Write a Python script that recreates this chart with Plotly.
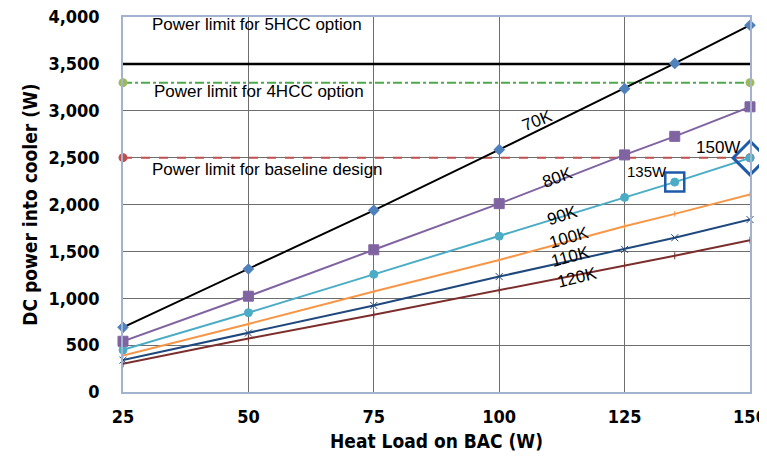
import plotly.graph_objects as go

heat_load = [25, 50, 75, 100, 125, 135, 150]
p70 = [690, 1312, 1938, 2585, 3236, 3505, 3912]
p80 = [541, 1022, 1517, 2009, 2529, 2727, 3042]
p90 = [449, 846, 1255, 1662, 2076, 2239, 2497]
p100 = [389, 725, 1072, 1408, 1769, 1900, 2108]
p110 = [340, 629, 923, 1231, 1521, 1645, 1839]
p120 = [300, 570, 824, 1086, 1355, 1453, 1620]

limit_x = [25, 150]
limit_5hcc = [3500, 3500]
limit_4hcc = [3300, 3300]
limit_base = [2500, 2500]

x_ticks = [25, 50, 75, 100, 125, 150]
y_ticks = [0, 500, 1000, 1500, 2000, 2500, 3000, 3500, 4000]

fig = go.Figure()

fig.add_trace(go.Scatter(x=limit_x, y=limit_5hcc, mode="lines",
                         line=dict(color="black", width=2.5)))
fig.add_trace(go.Scatter(x=limit_x, y=limit_4hcc, mode="lines+markers",
                         line=dict(color="#4EA84E", width=2, dash="dashdot"),
                         marker=dict(color="#9BBB59", size=9, symbol="circle"), cliponaxis=False))
fig.add_trace(go.Scatter(x=limit_x, y=limit_base, mode="lines+markers",
                         line=dict(color="#C0504D", width=2, dash="dash"),
                         marker=dict(color="#C0504D", size=9, symbol="circle"), cliponaxis=False))

series = [
    (p120, "#7B2E2C", "line-ns", 5),
    (p110, "#1F497D", "x-thin", 7),
    (p100, "#F79646", "line-ns", 4),
    (p90, "#4BACC6", "circle", 8),
    (p80, "#8064A2", "square", 10),
]
for ys, col, sym, sz in series:
    fig.add_trace(go.Scatter(x=heat_load, y=ys, mode="lines+markers",
                             line=dict(color=col, width=2), cliponaxis=False,
                             marker=dict(color=col, size=sz, symbol=sym,
                                         line=dict(color=col, width=1))))
fig.add_trace(go.Scatter(x=heat_load, y=p70, mode="lines+markers", cliponaxis=False,
                         line=dict(color="black", width=2),
                         marker=dict(color="#4F81BD", size=9, symbol="diamond")))

# highlighted points
fig.add_trace(go.Scatter(x=[heat_load[5]], y=[p90[5]], mode="markers",
                         marker=dict(symbol="square-open", size=19, color="#1F5AA8",
                                     line=dict(width=2.5, color="#1F5AA8"))))
fig.add_trace(go.Scatter(x=[heat_load[6]], y=[p90[6]], mode="markers",
                         marker=dict(symbol="diamond-open", size=26, color="#1F5AA8",
                                     line=dict(width=3, color="#1F5AA8")), cliponaxis=False))

anns = [
    (51.7, 3915, "Power limit for 5HCC option", 0, 17),
    (52.2, 3204, "Power limit for 4HCC option", 0, 17),
    (53.8, 2377, "Power limit for baseline design", 0, 17),
    (107.7, 2893, "70K", -22, 17),
    (111.6, 2292, "80K", -20, 17),
    (112.6, 1885, "90K", -18, 17),
    (114.0, 1645, "100K", -16, 17),
    (114.3, 1443, "110K", -15, 17),
    (115.6, 1220, "120K", -14, 17),
    (129.5, 2352, "135W", 0, 15),
    (143.6, 2610, "150W", 0, 17),
]
for x, y, t, ang, sz in anns:
    fig.add_annotation(x=x, y=y, text=t, textangle=ang, showarrow=False,
                       font=dict(family="Liberation Sans, Arial", size=sz, color="black"))

tick_font = dict(family="DejaVu Sans Condensed, Liberation Sans Narrow, Arial", size=18,
                 color="black", weight="bold")
title_font = dict(family="DejaVu Sans Condensed, Liberation Sans Narrow, Arial", size=19,
                  color="black", weight="bold")
fig.update_layout(
    width=767, height=465,
    margin=dict(l=115, r=25, t=9, b=81, autoexpand=False),
    paper_bgcolor="white", plot_bgcolor="white",
    showlegend=False,
    xaxis=dict(range=[25, 150], tickvals=x_ticks, showgrid=True, gridcolor="#6E6E6E", gridwidth=1,
               showline=True, linecolor="#A3B3CF", linewidth=1.5, mirror=True,
               tickfont=tick_font, ticks="", zeroline=False, automargin=False,
               ticklabelstandoff=8, ticklabeloverflow="allow",
               title=dict(text="Heat Load on BAC (W)", font=title_font, standoff=8)),
    yaxis=dict(range=[0, 4000], tickvals=y_ticks, tickformat=",", showgrid=True, gridcolor="#6E6E6E",
               gridwidth=1, showline=True, linecolor="#A3B3CF", linewidth=1.5, mirror=True,
               tickfont=tick_font, ticks="", zeroline=False, automargin=False,
               ticklabelstandoff=18, ticklabeloverflow="allow",
               title=dict(text="DC power into cooler (W)", font=title_font, standoff=6)),
)

fig.write_html("out.html")
